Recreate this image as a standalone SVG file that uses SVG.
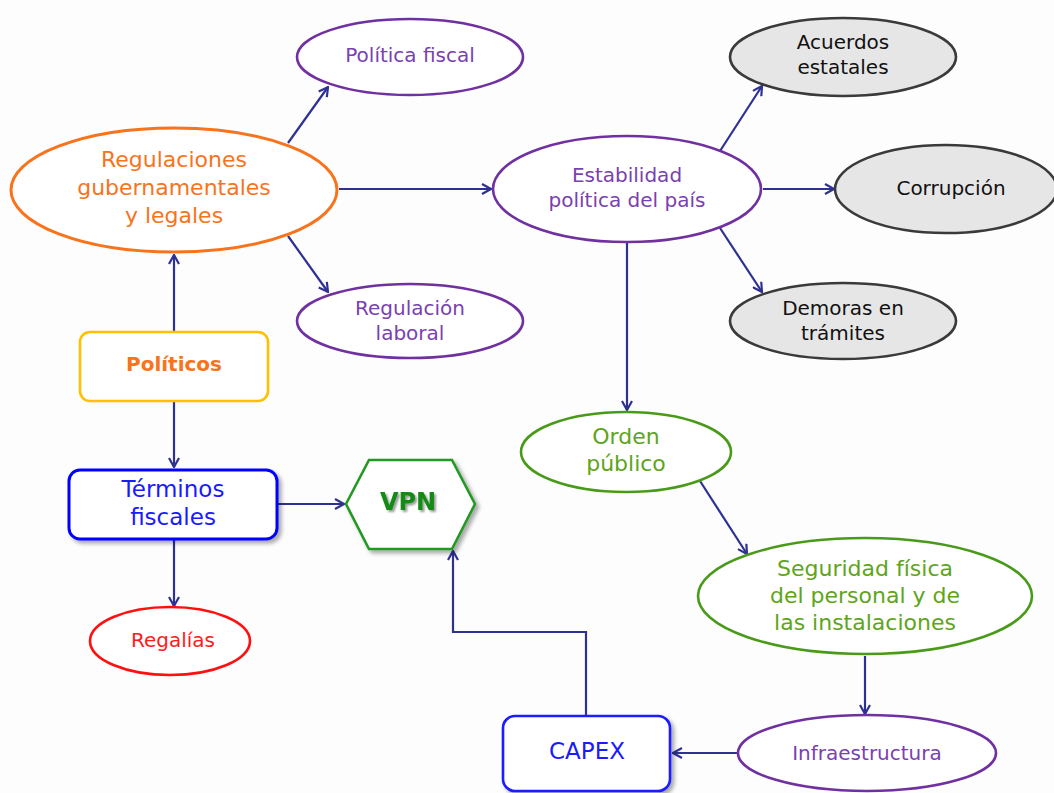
<svg xmlns="http://www.w3.org/2000/svg" width="1054" height="793" viewBox="0 0 1054 793">
  <defs>
    <marker id="arrow" viewBox="0 0 12 12" refX="11" refY="6" markerWidth="12" markerHeight="12" markerUnits="userSpaceOnUse" orient="auto">
      <polyline points="2,1 11,6 2,11" fill="none" stroke="#2e3192" stroke-width="2.2" stroke-linejoin="miter"/>
    </marker>
    <filter id="shadow" x="-10%" y="-10%" width="125%" height="130%">
      <feGaussianBlur in="SourceAlpha" stdDeviation="2"/>
      <feOffset dx="3" dy="3" result="b"/>
      <feComponentTransfer><feFuncA type="linear" slope="0.35"/></feComponentTransfer>
      <feMerge><feMergeNode/><feMergeNode in="SourceGraphic"/></feMerge>
    </filter>
    <filter id="textshadow" x="-10%" y="-20%" width="130%" height="150%">
      <feGaussianBlur in="SourceAlpha" stdDeviation="1"/>
      <feOffset dx="2" dy="2" result="b"/>
      <feComponentTransfer><feFuncA type="linear" slope="0.4"/></feComponentTransfer>
      <feMerge><feMergeNode/><feMergeNode in="SourceGraphic"/></feMerge>
    </filter>
  </defs>
  <style>
    text { font-family: "DejaVu Sans", "Liberation Sans", sans-serif; text-anchor: middle; dominant-baseline: central; }
    .edge { fill: none; stroke: #2e3192; stroke-width: 2.2; marker-end: url(#arrow); }
    .e-orange { fill: #ffffff; stroke: #f7731c; stroke-width: 3; }
    .e-purple { fill: #ffffff; stroke: #7030a0; stroke-width: 2.6; }
    .e-gray { fill: #e6e6e6; stroke: #3a3a3a; stroke-width: 2.6; }
    .e-green { fill: #ffffff; stroke: #4a9a1a; stroke-width: 2.6; }
    .e-red { fill: #ffffff; stroke: #ff1010; stroke-width: 2.6; }
    .t-orange { fill: #f7731c; font-size: 22px; }
    .t-purple { fill: #7a3fb0; font-size: 20px; }
    .t-dark { fill: #111111; font-size: 20px; }
    .t-green { fill: #5ea51a; font-size: 22px; }
    .t-blue { fill: #1a1aff; font-size: 23px; }
  </style>
  <rect width="1054" height="793" fill="#fdfdfd"/>

  <!-- connectors -->
  <g id="connectors">
    <line class="edge" x1="174" y1="332" x2="174" y2="255"/>
    <line class="edge" x1="174" y1="402" x2="174" y2="467"/>
    <line class="edge" x1="174" y1="540" x2="174" y2="606"/>
    <line class="edge" x1="278" y1="504" x2="344" y2="504"/>
    <polyline class="edge" points="586,716 586,632 453,632 453,551"/>
    <line class="edge" x1="738" y1="753" x2="673" y2="753"/>
    <line class="edge" x1="865" y1="656" x2="865" y2="714"/>
    <line class="edge" x1="700" y1="481" x2="747" y2="554"/>
    <line class="edge" x1="627" y1="243" x2="627" y2="410"/>
    <line class="edge" x1="763" y1="189" x2="834" y2="189"/>
    <line class="edge" x1="720" y1="151" x2="762" y2="86"/>
    <line class="edge" x1="720" y1="228" x2="762" y2="292"/>
    <line class="edge" x1="339" y1="189" x2="491" y2="189"/>
    <line class="edge" x1="288" y1="143" x2="328" y2="87"/>
    <line class="edge" x1="288" y1="236" x2="328" y2="292"/>
  </g>

  <g id="regulaciones">
    <ellipse class="e-orange" cx="174" cy="190" rx="163" ry="62"/>
    <text class="t-orange" x="174" y="159">Regulaciones</text>
    <text class="t-orange" x="174" y="187">gubernamentales</text>
    <text class="t-orange" x="174" y="215">y legales</text>
  </g>

  <g id="politica-fiscal">
    <ellipse class="e-purple" cx="410" cy="57" rx="113" ry="38"/>
    <text class="t-purple" x="410" y="55">Política fiscal</text>
  </g>

  <g id="regulacion-laboral">
    <ellipse class="e-purple" cx="410" cy="321" rx="113" ry="37"/>
    <text class="t-purple" x="410" y="308">Regulación</text>
    <text class="t-purple" x="410" y="333">laboral</text>
  </g>

  <g id="politicos">
    <rect x="80" y="332" width="188" height="69" rx="10" fill="#ffffff" stroke="#ffc000" stroke-width="2.6"/>
    <text x="174" y="364" fill="#f7731c" font-size="20" font-weight="bold">Políticos</text>
  </g>

  <g id="estabilidad">
    <ellipse class="e-purple" cx="627" cy="189" rx="134" ry="53"/>
    <text class="t-purple" x="627" y="175">Estabilidad</text>
    <text class="t-purple" x="627" y="200">política del país</text>
  </g>

  <g id="acuerdos">
    <ellipse class="e-gray" cx="843" cy="57" rx="113" ry="39"/>
    <text class="t-dark" x="843" y="42">Acuerdos</text>
    <text class="t-dark" x="843" y="67">estatales</text>
  </g>

  <g id="corrupcion">
    <ellipse class="e-gray" cx="946" cy="189" rx="111" ry="44"/>
    <text class="t-dark" x="951" y="188">Corrupción</text>
  </g>

  <g id="demoras">
    <ellipse class="e-gray" cx="843" cy="321" rx="113" ry="38"/>
    <text class="t-dark" x="843" y="308">Demoras en</text>
    <text class="t-dark" x="843" y="333">trámites</text>
  </g>

  <g id="orden-publico">
    <ellipse class="e-green" cx="626" cy="452" rx="105" ry="40"/>
    <text class="t-green" x="626" y="436">Orden</text>
    <text class="t-green" x="626" y="463">público</text>
  </g>

  <g id="seguridad">
    <ellipse class="e-green" cx="865" cy="596" rx="167" ry="58"/>
    <text class="t-green" x="865" y="568">Seguridad física</text>
    <text class="t-green" x="865" y="595">del personal y de</text>
    <text class="t-green" x="865" y="622">las instalaciones</text>
  </g>

  <g id="infraestructura">
    <ellipse class="e-purple" cx="867" cy="753" rx="129" ry="38"/>
    <text class="t-purple" x="867" y="753">Infraestructura</text>
  </g>

  <g id="capex">
    <rect x="503" y="716" width="167" height="75" rx="12" fill="#ffffff" stroke="#1a1aff" stroke-width="2.6" filter="url(#shadow)"/>
    <text class="t-blue" x="587" y="751">CAPEX</text>
  </g>

  <g id="terminos-fiscales">
    <rect x="69" y="470" width="208" height="69" rx="11" fill="#ffffff" stroke="#0000ff" stroke-width="3" filter="url(#shadow)"/>
    <text class="t-blue" x="173" y="489">Términos</text>
    <text class="t-blue" x="173" y="517">fiscales</text>
  </g>

  <g id="vpn">
    <polygon points="346,504 369,460 452,460 475,504 452,549 369,549" fill="#ffffff" stroke="#229922" stroke-width="2.6" filter="url(#shadow)"/>
    <text x="408" y="502" fill="#138a13" font-size="24" font-weight="bold" filter="url(#textshadow)">VPN</text>
  </g>

  <g id="regalias">
    <ellipse class="e-red" cx="170" cy="641" rx="80" ry="34"/>
    <text x="173" y="640" fill="#ff1a1a" font-size="20">Regalías</text>
  </g>
</svg>
